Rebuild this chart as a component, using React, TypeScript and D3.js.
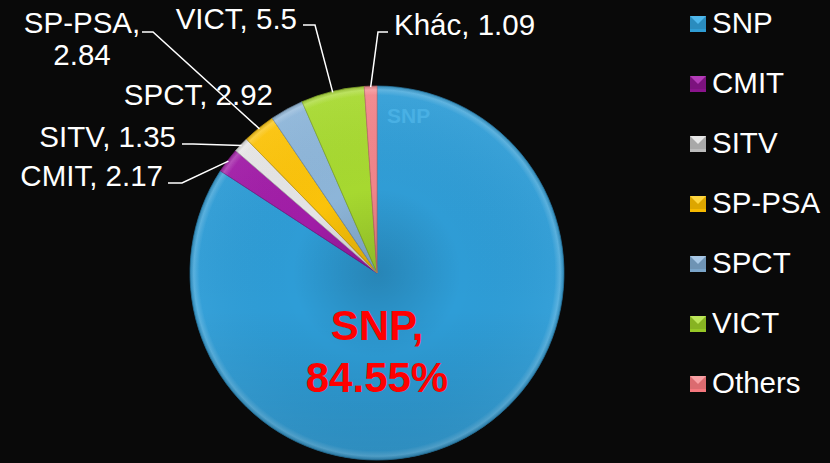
import React from 'react';
import * as d3 from 'd3';

const categories = ['SNP', 'CMIT', 'SITV', 'SP-PSA', 'SPCT', 'VICT', 'Khác'];
const values = [84.55, 2.17, 1.35, 2.84, 2.92, 5.5, 1.09];
const legendLabels = ['SNP', 'CMIT', 'SITV', 'SP-PSA', 'SPCT', 'VICT', 'Others'];
const valueLabels = ['84.55%', '2.17', '1.35', '2.84', '2.92', '5.5', '1.09'];

const sliceColors = ['#2E9DD7', '#A21CA8', '#E6E6E6', '#FDC408', '#8DB6DA', '#A7DA2E', '#F3848A'];
const legendBase = ['#2A8CBE', '#7C127E', '#A8A8A8', '#DDA600', '#6E93B4', '#87B322', '#DB6B70'];
const legendTop = ['#4FB8EC', '#B43CB8', '#E8E8E8', '#FFD640', '#A8C8E6', '#BDE65A', '#F8A0A4'];

// label layout (positions only): anchor, x, baselines, leader polyline start points
const labelLayout = [
  null,
  { anchor: 'end', x: 163, ys: [186], line: [[168, 183], [182, 183]] },
  { anchor: 'end', x: 176, ys: [147], line: [[182, 144], [193, 144]] },
  { anchor: 'middle', x: 82, ys: [33, 65], line: [[142, 32], [153, 32]], split: true },
  { anchor: 'end', x: 273, ys: [105], line: null },
  { anchor: 'end', x: 297, ys: [29], line: [[303, 25], [315, 25]] },
  { anchor: 'start', x: 394, ys: [35], line: [[388, 32], [378, 32]] },
];

const W = 830, H = 463;
const cx = 377, cy = 273, R = 187;
const FONT = 'Liberation Sans, Arial, Helvetica, sans-serif';
const FS = 29.5;

export default function App() {
  const pie = d3.pie<number>().sort(null).startAngle(0).endAngle(2 * Math.PI);
  const arcs = pie(values);
  const arcGen = d3.arc<d3.PieArcDatum<number>>().innerRadius(0).outerRadius(R);
  const rimGen = d3.arc<d3.PieArcDatum<number>>().innerRadius(R - 9).outerRadius(R);
  const pt = (a: number, r: number) => [cx + r * Math.sin(a), cy - r * Math.cos(a)];

  return (
    <svg width={W} height={H} style={{ position: 'absolute', left: 0, top: 0, background: '#090909' }}>
      <defs>
        <linearGradient id="shade" x1="0" y1="0" x2="0" y2="1">
          <stop offset="0" stopColor="#fff" stopOpacity="0.04" />
          <stop offset="0.6" stopColor="#000" stopOpacity="0" />
          <stop offset="1" stopColor="#000" stopOpacity="0.12" />
        </linearGradient>
        <radialGradient id="rim" cx={0} cy={0} r={R} gradientUnits="userSpaceOnUse">
          <stop offset="0.95" stopColor="#fff" stopOpacity="0" />
          <stop offset="0.98" stopColor="#fff" stopOpacity="0.18" />
          <stop offset="1" stopColor="#000" stopOpacity="0.15" />
        </radialGradient>
        <radialGradient id="inner" cx={0} cy={0} r={R} gradientUnits="userSpaceOnUse">
          <stop offset="0" stopColor="#000" stopOpacity="0.15" />
          <stop offset="0.45" stopColor="#000" stopOpacity="0" />
          <stop offset="1" stopColor="#fff" stopOpacity="0.04" />
        </radialGradient>
      </defs>
      <rect width={W} height={H} fill="#090909" />
      <g transform={`translate(${cx},${cy})`}>
        {arcs.map((a, i) => (
          <g key={categories[i]}>
            <path d={arcGen(a) || ''} fill={sliceColors[i]} stroke={d3.color(sliceColors[i])!.darker(0.7).toString()} strokeWidth={0.7} />
            <path d={arcGen(a) || ''} fill="url(#inner)" />
            <path d={rimGen(a) || ''} fill="url(#rim)" />
          </g>
        ))}
      </g>
      <circle cx={cx} cy={cy} r={R} fill="url(#shade)" />
      {/* faint inner label */}
      <text x={387} y={123} fontFamily={FONT} fontWeight="bold" fontSize={21} fill="#49B0E4">{categories[0]}</text>
      {/* main SNP label */}
      <text x={cx} y={340} textAnchor="middle" fontFamily={FONT} fontWeight="bold" fontSize={42} fill="#FF0000">{categories[0]},</text>
      <text x={cx} y={392} textAnchor="middle" fontFamily={FONT} fontWeight="bold" fontSize={42} fill="#FF0000">{valueLabels[0]}</text>
      {/* outer labels */}
      {arcs.map((a, i) => {
        const L = labelLayout[i];
        if (!L) return null;
        const mid = (a.startAngle + a.endAngle) / 2;
        const end = pt(mid, R - 1);
        const lines = L.split ? [categories[i] + ',', valueLabels[i]] : [`${categories[i]}, ${valueLabels[i]}`];
        return (
          <g key={'lbl' + i}>
            {L.line && (
              <polyline points={[...L.line, end].map(p => p.join(',')).join(' ')} fill="none" stroke="#fff" strokeWidth={1.5} />
            )}
            {lines.map((t, j) => (
              <text key={j} x={L.x} y={L.ys[j]} textAnchor={L.anchor as any} fontFamily={FONT} fontSize={FS} fill="#fff">{t}</text>
            ))}
          </g>
        );
      })}
      {/* legend */}
      {legendLabels.map((l, i) => {
        const y0 = 16 + i * 60;
        const x0 = 690, s = 16;
        return (
          <g key={'leg' + i}>
            <rect x={x0} y={y0} width={s} height={s} fill={legendBase[i]} />
            <polygon points={`${x0},${y0} ${x0 + s},${y0} ${x0 + s / 2},${y0 + s / 2}`} fill={legendTop[i]} />
            <rect x={x0} y={y0 + s - 3} width={s} height={3} fill={d3.color(legendBase[i])!.brighter(0.3).toString()} />
            <text x={712} y={y0 + 17} fontFamily={FONT} fontSize={FS} fill="#fff">{l}</text>
          </g>
        );
      })}
    </svg>
  );
}
